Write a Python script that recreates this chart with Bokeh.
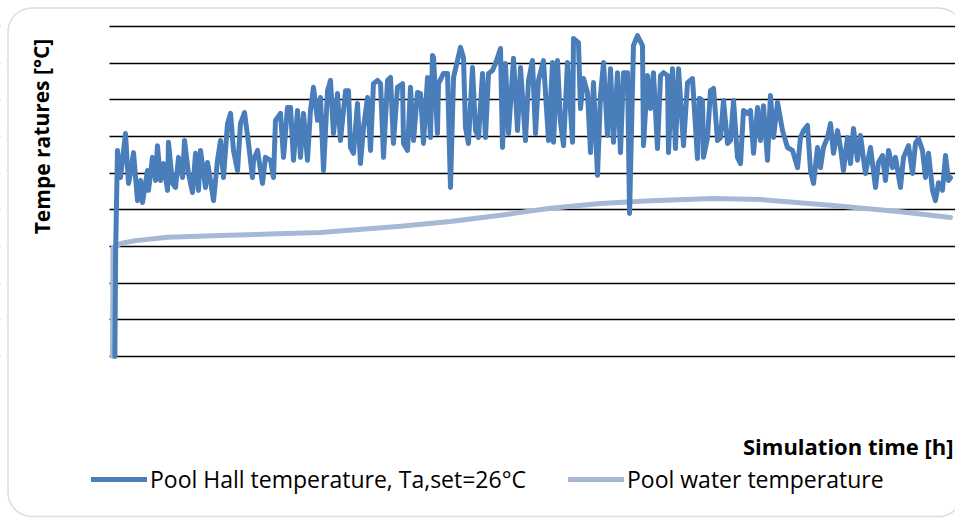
from bokeh.plotting import figure
from bokeh.models import (Range1d, FixedTicker, Label, Legend, LegendItem,
                          BoxAnnotation)
from bokeh.embed import file_html
from bokeh.resources import INLINE

# ---------------- data ----------------
# Simulation time [h] and pool hall air temperature [degC] (digitised)
hall_time = [25, 33, 52, 84, 136, 167, 188, 220, 261, 293, 314, 366, 376, 418, 450, 470, 502, 533, 575, 585,
             627, 659, 690, 732, 753, 794, 836, 868, 899, 920, 972, 993, 1024, 1056, 1098, 1129, 1160, 1202, 1234, 1265,
             1307, 1338, 1380, 1422, 1463, 1474, 1516, 1568, 1599, 1652, 1683, 1704, 1756, 1788, 1829, 1861, 1892, 1934, 1965, 1997,
             2038, 2070, 2101, 2143, 2174, 2206, 2248, 2279, 2310, 2352, 2383, 2436, 2467, 2488, 2519, 2561, 2592, 2624, 2666, 2697,
             2728, 2770, 2802, 2833, 2875, 2906, 2937, 2979, 3032, 3042, 3084, 3115, 3147, 3188, 3220, 3251, 3293, 3324, 3345, 3356,
             3397, 3408, 3460, 3502, 3533, 3565, 3606, 3638, 3669, 3690, 3721, 3763, 3795, 3826, 3868, 3899, 3931, 3972, 4004, 4056,
             4077, 4108, 4140, 4192, 4234, 4265, 4317, 4349, 4390, 4422, 4453, 4505, 4558, 4600, 4610, 4652, 4683, 4715, 4756, 4809,
             4819, 4871, 4892, 4924, 4965, 4997, 5028, 5070, 5101, 5133, 5174, 5206, 5237, 5279, 5310, 5342, 5384, 5405, 5446, 5488,
             5540, 5551, 5593, 5624, 5655, 5697, 5729, 5760, 5802, 5812, 5854, 5885, 5917, 5969, 6011, 6063, 6115, 6136, 6168, 6178,
             6220, 6251, 6283, 6324, 6356, 6387, 6429, 6460, 6492, 6533, 6565, 6596, 6638, 6669, 6701, 6743, 6774, 6805, 6847, 6878,
             6910, 6952, 7004, 7056, 7108, 7161, 7192, 7223, 7265, 7297, 7328, 7370, 7401, 7432, 7474, 7506, 7537, 7579, 7610, 7641,
             7683, 7715, 7746, 7788, 7819, 7871, 7924, 7976, 8007, 8049, 8080, 8112, 8154, 8185, 8237, 8269, 8321, 8363, 8394, 8425,
             8467, 8499, 8530, 8572, 8603, 8635, 8676, 8708, 8739, 8760]
hall_temp = [20.00, 22.89, 25.62, 24.88, 26.08, 24.72, 24.99, 25.56, 24.25, 24.80, 24.20, 25.07, 24.53, 25.43, 24.80, 25.75, 24.80, 25.26, 24.53, 25.84,
             24.72, 24.61, 25.43, 24.88, 25.89, 24.99, 24.47, 25.54, 24.53, 25.62, 24.61, 25.29, 24.80, 24.25, 25.35, 25.89, 24.88, 26.35, 26.63, 25.62,
             25.07, 26.35, 26.65, 25.81, 24.88, 25.35, 25.62, 24.72, 25.43, 25.35, 24.88, 26.44, 26.63, 25.43, 26.79, 26.79, 25.35, 26.71, 25.43, 26.63,
             25.35, 26.71, 27.34, 26.44, 27.06, 25.07, 27.25, 27.53, 26.08, 27.17, 25.89, 27.25, 27.25, 25.70, 25.54, 26.90, 25.26, 26.24, 27.06, 25.62,
             27.44, 27.53, 27.44, 25.43, 27.53, 27.61, 25.81, 27.34, 27.44, 25.81, 25.62, 27.34, 25.89, 27.20, 27.17, 25.81, 27.61, 25.97, 28.21, 28.15,
             26.08, 27.44, 27.72, 27.72, 24.61, 27.61, 28.07, 28.43, 28.15, 26.24, 25.81, 27.88, 26.16, 25.97, 27.72, 25.97, 27.72, 27.80, 27.99, 28.40,
             25.70, 27.99, 26.08, 28.13, 26.16, 27.88, 25.89, 27.53, 28.07, 26.08, 27.53, 28.07, 25.89, 28.02, 25.84, 28.07, 26.38, 25.75, 28.02, 25.84,
             28.67, 28.56, 26.76, 27.58, 27.20, 25.56, 27.47, 24.94, 27.12, 28.02, 26.03, 27.85, 25.84, 27.74, 25.56, 27.74, 27.74, 23.90, 28.48, 28.75,
             28.48, 25.75, 27.66, 26.76, 27.74, 25.67, 27.66, 27.74, 27.66, 25.56, 27.85, 25.67, 27.85, 25.75, 27.47, 27.58, 25.40, 27.04, 26.98, 25.43,
             25.97, 27.25, 27.31, 25.89, 25.97, 26.98, 25.81, 25.89, 26.98, 25.43, 25.26, 26.71, 26.63, 26.71, 25.54, 26.79, 25.89, 26.84, 25.35, 27.12,
             25.97, 26.93, 26.16, 25.70, 25.62, 25.15, 25.97, 26.16, 26.30, 25.07, 24.72, 25.70, 25.15, 25.70, 25.97, 26.35, 25.54, 26.16, 25.70, 25.07,
             25.97, 25.26, 26.22, 25.35, 26.03, 24.99, 25.70, 24.61, 25.29, 25.48, 24.80, 25.62, 25.15, 25.43, 24.61, 25.43, 25.75, 24.99, 25.81, 25.94,
             25.62, 24.88, 25.54, 24.53, 24.25, 24.74, 24.53, 25.48, 24.80, 24.88]

# Pool water temperature [degC]
water_time = [0, 5, 84, 240, 575, 1129, 2174, 3011, 3533, 4056, 4265, 4579, 5101, 5624, 6283, 6774, 7537, 8237, 8760]
water_temp = [20.00, 22.97, 23.08, 23.16, 23.25, 23.30, 23.38, 23.55, 23.68, 23.85, 23.93, 24.04, 24.17, 24.25, 24.31, 24.28, 24.12, 23.95, 23.79]

grid_ticks = [20, 21, 22, 23, 24, 25, 26, 27, 28, 29]

series_names = ["Pool Hall temperature, Ta,set=26°C", "Pool water temperature"]
y_title = "Tempe ratures [°C]"
x_title = "Simulation time [h]"

HALL_COLOR = "#4a7ebb"
WATER_COLOR = "#a7b8d5"
FONT = "Open Sans"

# ---------------- figure ----------------
p = figure(width=955, height=518, output_backend="svg", toolbar_location=None,
           x_range=Range1d(-1170.8, 8812.3), y_range=Range1d(15.582, 29.708),
           min_border=0, min_border_left=0, min_border_right=0,
           min_border_top=0, min_border_bottom=0)
p.outline_line_color = None
p.background_fill_color = "white"
p.border_fill_color = "white"
p.xaxis.visible = False
p.yaxis.visible = False
p.xgrid.visible = False
p.yaxis.ticker = FixedTicker(ticks=grid_ticks)
p.ygrid.ticker = FixedTicker(ticks=grid_ticks)
p.ygrid.grid_line_color = "black"
p.ygrid.grid_line_width = 1.6

# white strip hiding the gridlines left of the plot area
p.add_layout(BoxAnnotation(left=-30, right=109, bottom=-30, top=550,
                           left_units="screen", right_units="screen",
                           top_units="screen", bottom_units="screen",
                           fill_color="white", fill_alpha=1, line_alpha=0,
                           level="guide"))
# rounded chart border
p.add_layout(BoxAnnotation(left=7.5, right=962, top=510.5, bottom=2,
                           left_units="screen", right_units="screen",
                           top_units="screen", bottom_units="screen",
                           fill_alpha=0, line_color="#8a8a8a", line_width=1.5,
                           border_radius=24, level="annotation"))

water = p.line(water_time, water_temp, line_color=WATER_COLOR, line_width=5,
               line_join="round", line_cap="round")
hall = p.line(hall_time, hall_temp, line_color=HALL_COLOR, line_width=5,
              line_join="round", line_cap="round")

# axis titles
p.add_layout(Label(x=41, y=518 - 136, x_units="screen", y_units="screen",
                   text=y_title, angle=1.5708, text_align="center",
                   text_baseline="middle", text_font=FONT, text_font_style="bold",
                   text_font_size="21px", text_color="black"))
p.add_layout(Label(x=953, y=518 - 445, x_units="screen", y_units="screen",
                   text=x_title, text_align="right", text_baseline="middle",
                   text_font=FONT, text_font_style="bold",
                   text_font_size="22px", text_color="black"))

# legends
for rend, name, xpos in [(hall, series_names[0], 91), (water, series_names[1], 568)]:
    lg = Legend(items=[LegendItem(label=name, renderers=[rend])],
                location=(xpos, 23), orientation="horizontal",
                glyph_width=56, glyph_height=24, label_height=24,
                label_standoff=3, padding=0, margin=0, spacing=0,
                border_line_alpha=0, background_fill_alpha=0,
                label_text_font=FONT, label_text_font_size="23px",
                label_text_color="black", label_text_baseline="middle")
    p.add_layout(lg)

open("out.html", "w").write(file_html(p, INLINE))
